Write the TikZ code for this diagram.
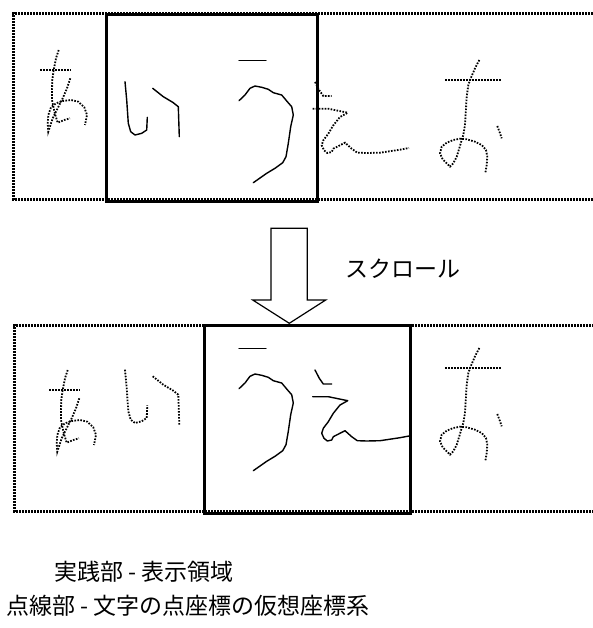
\documentclass[tikz,border=0pt]{standalone}
\usepackage{fontspec}
\newfontfamily\jpfont{Noto Sans CJK JP}
\tikzset{
  dispbox/.style={line width=3pt},
  ink/.style={line width=1.4pt, line join=round, line cap=round},
  dots/.style={line width=1.8pt, dash pattern=on 1.6pt off 1.4pt},
  hollowarrow/.style={line width=1.2pt, fill=white, line join=miter},
  label/.style={inner sep=0pt, anchor=west, font=\jpfont\fontsize{23}{27}\selectfont}
}
% dashed frame of the virtual coordinate system, drawn as small squares
% #1 = left x, #2 = top y, #3 = bottom y
\newcommand{\vframe}[3]{%
  \foreach \i in {0,...,195} {%
    \fill ({#1+3*\i},#2) rectangle ({#1+3*\i+2.3},#2+2.8);
    \fill ({#1+3*\i},#3) rectangle ({#1+3*\i+2.3},#3+2.8);
  }%
  \foreach \i in {0,...,62} {%
    \fill (#1,{#2+3*\i}) rectangle (#1+3,{#2+3*\i+2.3});
  }%
}
\newcommand{\glyphA}[1]{%
  \draw[#1] (49,390.3) -- (80,390.3);
  \draw[#1] (67.7,370) -- (65,378.3) -- (62.7,390) -- (61.3,400) -- (61,410) -- (61,420) -- (62.7,428.3) -- (64.3,435) -- (66.7,442.7) -- (73.3,440) -- (79,438.3);
  \draw[#1] (79.3,398.3) -- (76,408.3) -- (71.7,418.3) -- (66.7,428.3) -- (61.7,438.3) -- (57.3,451.7) -- (56.7,443.3) -- (57.3,435) -- (60,427.3) -- (65,423.3) -- (71.7,421) -- (80,420) -- (87.3,421.7) -- (93.3,427.3) -- (96,435) -- (94,445);
}
\newcommand{\glyphI}[1]{%
  \draw[#1] (125,81.7) -- (126.7,100) -- (128.3,123.3) -- (130.7,131.7) -- (135,135) -- (141.7,133.3) -- (146.7,130) -- (147.3,117.3);
  \draw[#1] (152.7,88.3) -- (163.3,96.7) -- (173.3,102.7) -- (178.3,106.7) -- (179.3,136.7);
}
\newcommand{\glyphU}[1]{%
  \draw[#1] (239,60.3) -- (266,60.3);
  \draw[#1] (239,100.7) -- (245,95) -- (250,88.3) -- (255,86) -- (261.7,87.3) -- (268.3,89.3) -- (273.3,92.7) -- (281.7,95) -- (287.3,101.7) -- (291.7,106.7) -- (293.3,115) -- (290.7,126.7) -- (288.3,143.3) -- (286,156.7) -- (282.7,162.7) -- (275,168.3) -- (266.7,173.3) -- (253.3,182.7);
}
\newcommand{\glyphE}[1]{%
  \draw[#1] (315,82) -- (319.3,90.3) -- (323.3,96) -- (331.7,96);
  \draw[#1] (312.7,108.7) -- (328.3,108.7) -- (347.7,112.7) -- (340,117) -- (333.3,125.3) -- (328.3,133.7) -- (323.3,140.3) -- (321.7,145.3) -- (324,150.3) -- (327.3,153) -- (331.7,152) -- (333.3,148.7) -- (345,142.7) -- (351.7,148.7) -- (357.3,152.7) -- (366.7,153) -- (380,152.7) -- (400,149.7) -- (409,148);
}
\newcommand{\glyphO}[1]{%
  \draw[#1] (445,80.3) -- (501.7,80.3);
  \draw[#1] (479.3,60) -- (475,68.3) -- (470.7,78.3) -- (468.3,85) -- (466.7,96.7) -- (465.7,113.3) -- (465,125) -- (463.3,135) -- (461.7,140) -- (459.3,148.3) -- (456.7,156.7) -- (453.3,163.3) -- (450,166.7) -- (446.7,163.3) -- (442.7,159.3) -- (440,153.3) -- (441.7,146.7) -- (446.7,142.7) -- (453.3,140) -- (460,138.7) -- (466.7,139.3) -- (475,141.7) -- (481.7,145) -- (486,150) -- (487.3,156.7) -- (486.7,165) -- (485.3,173.3);
  \draw[#1] (497.3,126) -- (500,133.3) -- (501.7,138.3);
}
\begin{document}
\begin{tikzpicture}[x=1pt,y=-1pt]
  \useasboundingbox (0,0) rectangle (593,628);
  \fill[white] (0,0) rectangle (593,628);
  \clip (0,0) rectangle (593,628);

  % ---------- top panel ----------
  \vframe{12}{12}{198}
  \begin{scope}[xshift=-9pt, yshift=320pt]
    \glyphA{dots}
  \end{scope}
  \glyphI{ink}
  \glyphU{ink}
  \glyphE{dots}
  \glyphO{dots}
  \node[draw, dispbox, inner sep=0pt, minimum width=210.7pt, minimum height=187pt, anchor=north west] (view1) at (105,13) {};

  % ---------- scroll arrow ----------
  \coordinate (tip) at (289.3,323.3);
  \draw[hollowarrow] (271,228.3) -- (307.3,228.3) -- (307.3,300) -- (325.7,300) -- (tip) -- (252.7,300) -- (271,300) -- cycle;
  \node[label] (scroll) at (345,269) {スクロール};

  % ---------- bottom panel ----------
  \vframe{13}{324}{510}
  \glyphA{dots}
  \begin{scope}[yshift=-288pt]
    \glyphI{dots}
    \glyphU{ink}
    \glyphE{ink}
    \glyphO{dots}
  \end{scope}
  \node[draw, dispbox, inner sep=0pt, minimum width=206pt, minimum height=187.4pt, anchor=north west] (view2) at (203.3,324.3) {};

  % ---------- legend ----------
  \node[label] (legend1) at (54,572) {実践部 - 表示領域};
  \node[label] (legend2) at (6,606) {点線部 - 文字の点座標の仮想座標系};
\end{tikzpicture}
\end{document}
